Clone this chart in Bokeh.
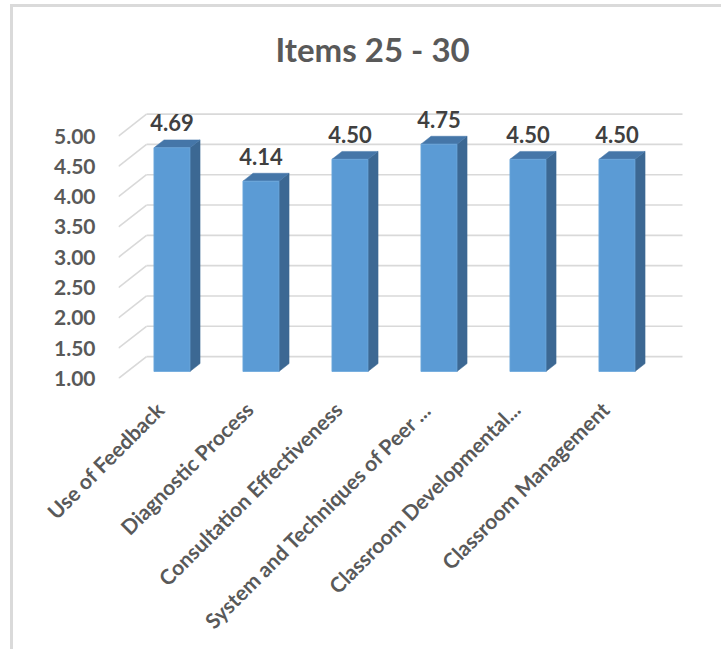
import math

from bokeh.core.properties import value
from bokeh.embed import file_html
from bokeh.models import FixedTicker, NumeralTickFormatter, Range1d
from bokeh.plotting import figure
from bokeh.resources import INLINE

# --- data -------------------------------------------------------------
categories = [
    "Use of Feedback",
    "Diagnostic Process",
    "Consultation Effectiveness",
    "System and Techniques of Peer ...",
    "Classroom Developmental...",
    "Classroom Management",
]
scores = [4.69, 4.14, 4.50, 4.75, 4.50, 4.50]
y_ticks = [1.0, 1.5, 2.0, 2.5, 3.0, 3.5, 4.0, 4.5, 5.0]

# --- pseudo-3D projection --------------------------------------------
PX_PER_SLOT = 89.0      # screen pixels per category slot
PX_PER_UNIT = 60.83     # screen pixels per score unit
DEPTH_X = 28.0 / PX_PER_SLOT   # full box depth, horizontal component
DEPTH_Y = 22.0 / PX_PER_UNIT   # full box depth, vertical component
BAR_D0, BAR_D1 = 0.32, 0.68    # bar depth span inside the box
BAR_W = 0.405
BAR_SHIFT = 12.0 / PX_PER_SLOT  # bars sit a little right of their category tick

W, H = 711, 645
FRAME_W, FRAME_H = 572, 292
LEFT, TOP_B = 105, 79
x_start = -0.5 - BAR_D0 * DEPTH_X + BAR_SHIFT
x_end = x_start + FRAME_W / PX_PER_SLOT
y_start = 1.0
y_end = y_start + FRAME_H / PX_PER_UNIT

FONT = value("Lato")
GRID = "#d9d9d9"
FRONT, SIDE, TOP = "#5b9bd5", "#3c6893", "#4576a8"

p = figure(
    width=W, height=H,
    x_range=Range1d(x_start, x_end), y_range=Range1d(y_start, y_end),
    min_border_left=LEFT, min_border_right=W - LEFT - FRAME_W,
    min_border_top=TOP_B, min_border_bottom=H - TOP_B - FRAME_H,
    output_backend="svg", toolbar_location=None,
    margin=(7, 0, 0, 13),
)
# light frame along the chart's top and left edges
p.styles = {"box-shadow": "-3px -3px 0 0 #dadada"}
p.outline_line_color = None
p.xgrid.visible = False
p.ygrid.visible = False

# title
p.title.text = "Items 25 - 30"
p.title.align = "left"
p.title.offset = 157
p.title.standoff = 38
p.title.text_font = "Lato"
p.title.text_font_size = "33px"
p.title.text_font_style = "bold"
p.title.text_color = "#595959"

# back wall gridlines and side-wall diagonals
back_x0 = [x_start + DEPTH_X] * len(y_ticks)
back_x1 = [x_start + (FRAME_W - 8) / PX_PER_SLOT] * len(y_ticks)
back_y = [t + DEPTH_Y for t in y_ticks]
p.segment(x0=back_x0, y0=back_y, x1=back_x1, y1=back_y, line_color=GRID, line_width=1.6)
p.segment(x0=[x_start] * len(y_ticks), y0=y_ticks,
          x1=back_x0, y1=back_y, line_color=GRID, line_width=1.6)

# bars: front face, side face, top face
ddx = (BAR_D1 - BAR_D0) * DEPTH_X
ddy = (BAR_D1 - BAR_D0) * DEPTH_Y
xs = list(range(len(categories)))
centers = [x + BAR_SHIFT for x in xs]
lefts = [c - BAR_W / 2 for c in centers]
rights = [c + BAR_W / 2 for c in centers]
base = y_start + BAR_D0 * DEPTH_Y
tops = [v + BAR_D0 * DEPTH_Y for v in scores]

p.patches(
    xs=[[r, r + ddx, r + ddx, r] for r in rights],
    ys=[[base, base + ddy, t + ddy, t] for t in tops],
    fill_color=SIDE, line_color=SIDE, line_width=0.5,
)
p.patches(
    xs=[[l, r, r + ddx, l + ddx] for l, r in zip(lefts, rights)],
    ys=[[t, t, t + ddy, t + ddy] for t in tops],
    fill_color=TOP, line_color=TOP, line_width=0.5,
)
p.quad(left=lefts, right=rights, bottom=base, top=tops,
       fill_color=FRONT, line_color="#6aa6dc", line_width=0.8)

# value labels above each bar
p.text(
    x=centers, y=[t + 25.0 / PX_PER_UNIT for t in tops],
    text=[f"{v:.2f}" for v in scores],
    text_font=FONT, text_font_size="22px", text_font_style="bold",
    text_color="#404040", text_align="center", text_baseline="middle",
)

# axes
p.yaxis.ticker = FixedTicker(ticks=y_ticks)
p.yaxis.formatter = NumeralTickFormatter(format="0.00")
p.xaxis.ticker = FixedTicker(ticks=xs)
p.xaxis.major_label_overrides = {i: c for i, c in enumerate(categories)}
p.xaxis.major_label_orientation = math.pi / 4
for ax in (p.xaxis, p.yaxis):
    ax.axis_line_color = None
    ax.major_tick_line_color = None
    ax.minor_tick_line_color = None
    ax.major_label_text_font = "Lato"
    ax.major_label_text_color = "#595959"
    ax.major_label_text_font_style = "bold"
p.yaxis.major_label_text_font_size = "21px"
p.yaxis.major_label_standoff = 17
p.xaxis.major_label_text_font_size = "21px"
p.xaxis.major_label_standoff = 21

open("out.html", "w").write(file_html(p, INLINE))
